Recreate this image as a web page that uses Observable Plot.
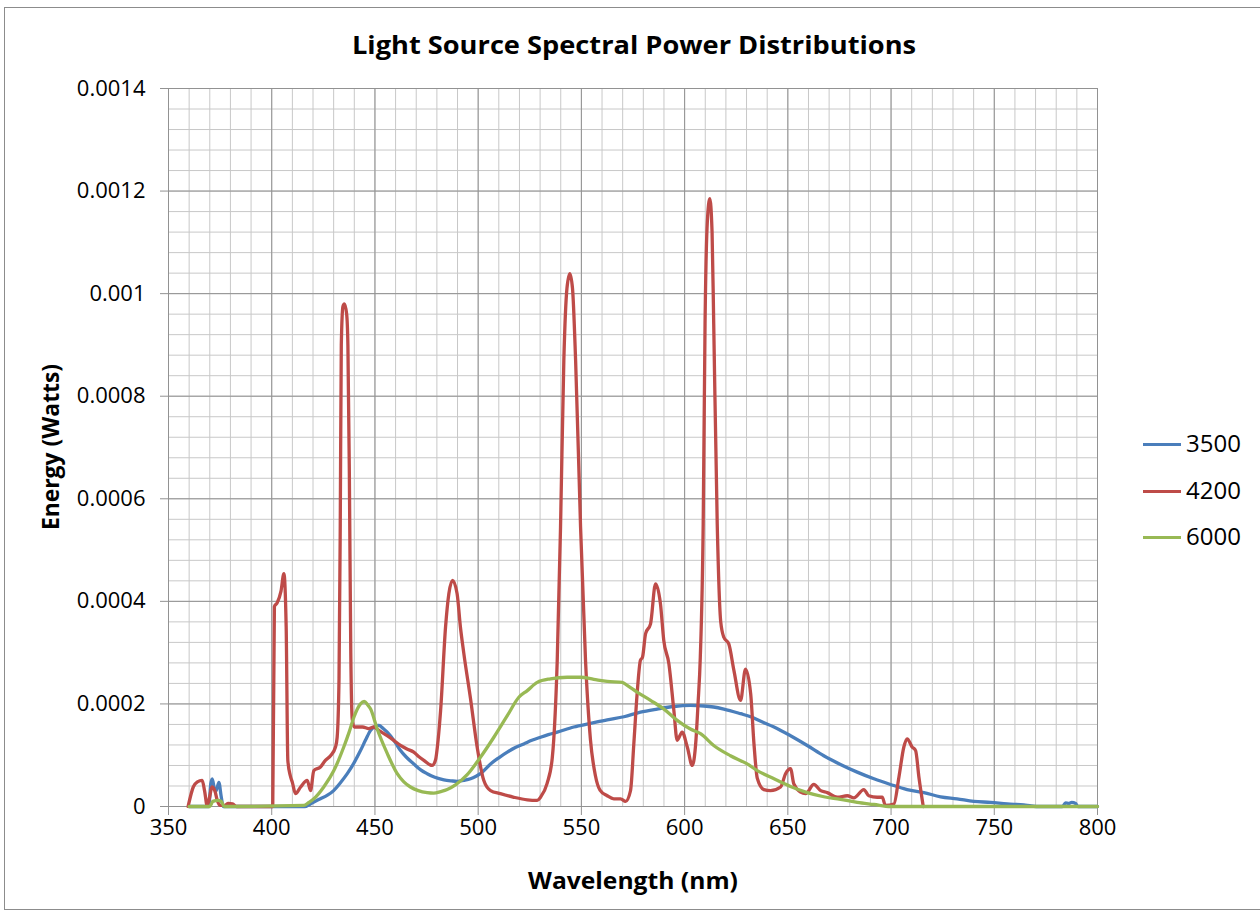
<!DOCTYPE html>
<html>
<head>
<meta charset="utf-8">
<script src="https://cdn.jsdelivr.net/npm/d3@7"></script>
<script src="https://cdn.jsdelivr.net/npm/@observablehq/plot@0.6"></script>
<style>
  body { margin: 0; background: #fff; }
  #wrap { position: relative; width: 1260px; height: 914px; overflow: hidden; font-family: "Open Sans", sans-serif; color: #000; }
  #frame { position: absolute; left: 4px; top: 7px; width: 1270px; height: 903px; border: 1px solid #8c8c8c; box-sizing: border-box; }
  #chart { position: absolute; left: 0; top: 70px; }
  .lbl { position: absolute; white-space: nowrap; transform-origin: 50% 50%; line-height: 1; }
  .bold { font-weight: 700; }
  .leg-line { position: absolute; height: 3px; width: 38px; }
  .leg-text { position: absolute; font-size: 24px; line-height: 1; }
</style>
</head>
<body>
<div id="wrap">
  <div id="frame"></div>
  <div id="chart"></div>
</div>
<script>
// ---------- data (energy values in units of 1e-4 W) ----------
const seriesNames = ["3500", "4200", "6000"];
const seriesColors = ["#4a7ebb", "#be4b48", "#98b954"];

const nm3500 = [360,369.5,370.5,371.2,372.2,373,374.4,375.5,376.5,416,420,423.6,427,430,433,436.6,440,443,445.5,447.8,450,451.9,454,457.5,460,462.4,465.5,468.8,472,475.3,479,483.4,487,489.8,493,496.3,499,501.1,506,510,514.1,518,522.1,526,530.2,534,538.3,546.3,554.4,562.5,570.6,578.6,586.7,594.8,602.8,609.3,614,619,627.1,632,636.9,643.3,651.3,659.4,667.4,675.5,683.6,691.7,699.7,707.8,715.9,724,732,740.1,748.2,756.3,764.3,768,772,783,784.5,786,787.5,789.4,790.5,800];
const e3500 = [0,0,0.45,0.54,0.35,0.3,0.47,0.2,0,0,0.08,0.15,0.22,0.31,0.45,0.64,0.86,1.09,1.3,1.48,1.56,1.58,1.52,1.38,1.24,1.09,0.95,0.83,0.72,0.64,0.57,0.52,0.5,0.49,0.51,0.54,0.59,0.64,0.83,0.95,1.06,1.15,1.22,1.29,1.35,1.4,1.45,1.55,1.62,1.69,1.75,1.84,1.9,1.95,1.97,1.96,1.94,1.9,1.81,1.75,1.66,1.55,1.38,1.19,0.99,0.82,0.67,0.54,0.43,0.33,0.27,0.19,0.15,0.1,0.08,0.05,0.03,0.01,0,0,0.07,0.06,0.08,0.06,0,0];

const nm4200 = [359.5,362,364,366.3,367.5,368.7,370,371,372.5,373.6,375,377,379,381,383,400.5,401.3,402.6,404.5,405.9,407,407.8,409,410,411.5,414,417.2,418.8,420.4,423.6,426,428.5,430.9,431.7,432.6,433.2,433.7,434.5,435.2,436.3,436.9,437.6,438.3,439,440,444,447,449.5,452,455.9,459.1,462.4,465.5,468.8,471,473.7,477.7,479.3,480.6,481.8,484.2,485.8,487.6,489.8,491.4,493,496.3,499.5,502.7,506,510.8,517.3,523.8,528.6,530.2,533.4,535.9,536.6,538.3,539.9,541.5,543,544.4,545.7,547.2,549.6,552,554.4,556.8,559,562.5,565.7,569,571.4,573.8,575.4,577,578.6,579.6,581.1,583.5,585.9,588.3,589.9,592.4,594.8,596.4,598.8,601.3,603.7,605.5,606.5,607.6,609,609.9,611,612.2,613.3,614.1,615.8,617.5,619,621.4,623.9,627.1,629.5,632,633.6,635.2,638.4,641.6,646.5,648.9,651.3,652.9,656.2,658.6,662.6,665.9,669.1,673.9,678.8,682,686.8,689.2,693.3,695.7,697.3,701.4,703.8,706.2,707.8,710.2,711.9,713.5,715.6];
const e4200 = [0,0.38,0.48,0.51,0.3,0.02,0.2,0.38,0.3,0.12,0.02,0.02,0.06,0.05,0,0,3.9,3.97,4.2,4.54,3.5,0.9,0.6,0.47,0.25,0.38,0.51,0.31,0.7,0.77,0.9,0.99,1.16,1.35,2.5,5.5,9.0,9.75,9.8,9.6,9.0,6.5,3.0,1.7,1.55,1.55,1.52,1.55,1.48,1.38,1.29,1.19,1.12,1.06,0.98,0.9,0.8,0.9,1.3,1.87,3.5,4.15,4.41,4.15,3.5,3.0,2.1,1.16,0.51,0.31,0.25,0.18,0.13,0.12,0.18,0.45,0.95,1.3,2.85,5.45,8.7,10.1,10.39,10.1,8.7,5.45,2.85,1.3,0.6,0.32,0.21,0.15,0.15,0.1,0.31,1.22,2.2,2.85,2.91,3.37,3.56,4.34,3.95,3.24,2.78,1.87,1.29,1.45,1.16,0.8,1.3,2.0,2.91,5.51,9.41,11.4,11.85,11.2,9.41,5.51,3.6,3.3,3.17,2.65,2.07,2.68,2.2,1.22,0.55,0.33,0.31,0.38,0.64,0.74,0.44,0.28,0.25,0.43,0.31,0.27,0.18,0.21,0.17,0.33,0.21,0.18,0.18,0.02,0.05,0.57,1.16,1.32,1.16,1.09,0.57,0];

const nm6000 = [360,370,371.5,374,375.5,377,415.5,418,420.4,425.2,430.1,434.9,437.5,439.8,443,444.8,446.5,447.9,451.1,456,460.8,464,467.2,471,475.3,478.5,481.8,485,489,494.7,501.1,507.6,514.1,519.7,523.8,528.6,535,543.1,549.6,556,562.5,569.8,572.2,577,583.5,590,596.4,602.8,607.7,614.1,622.2,630.3,635.2,643.3,651.3,659.4,667.4,675.5,683.6,691.7,699.7,800];
const e6000 = [0,0,0.1,0.12,0.1,0,0.02,0.08,0.15,0.38,0.7,1.16,1.45,1.74,2.0,2.05,1.98,1.9,1.51,1.03,0.64,0.48,0.38,0.31,0.27,0.26,0.29,0.33,0.42,0.62,0.96,1.35,1.77,2.13,2.26,2.42,2.49,2.52,2.52,2.48,2.44,2.42,2.36,2.23,2.07,1.9,1.68,1.51,1.42,1.19,0.99,0.83,0.7,0.54,0.39,0.27,0.19,0.14,0.08,0.04,0,0];

const xTicks = [350, 400, 450, 500, 550, 600, 650, 700, 750, 800];
const yTicks = [0, 0.0002, 0.0004, 0.0006, 0.0008, 0.001, 0.0012, 0.0014];
const yTickLabels = ["0", "0.0002", "0.0004", "0.0006", "0.0008", "0.001", "0.0012", "0.0014"];
const xMinor = d3.range(350, 801, 10);
const yMinor = d3.range(0, 36).map(i => i * 0.00004);

const titleText = "Light Source Spectral Power Distributions";
const xTitle = "Wavelength (nm)";
const yTitle = "Energy (Watts)";

// ---------- build table ----------
const raw = [[nm3500, e3500], [nm4200, e4200], [nm6000, e6000]];
const table = [];
raw.forEach(([xs, ys], s) => xs.forEach((x, i) => table.push({series: seriesNames[s], nm: x, energy: ys[i] * 1e-4})));

const chart = Plot.plot({
  width: 1260,
  height: 844,
  marginLeft: 168,
  marginRight: 163,
  marginTop: 18,
  marginBottom: 108,
  style: {fontFamily: "'Open Sans', sans-serif", fontSize: "22px", color: "#000", background: "transparent", overflow: "visible"},
  x: {domain: [350, 800]},
  y: {domain: [0, 0.0014]},
  color: {domain: seriesNames, range: seriesColors},
  marks: [
    Plot.gridX(xMinor, {stroke: "#c8c8c8", strokeOpacity: 1}),
    Plot.gridY(yMinor, {stroke: "#c8c8c8", strokeOpacity: 1}),
    Plot.gridX(xTicks, {stroke: "#929292", strokeOpacity: 1}),
    Plot.gridY(yTicks, {stroke: "#929292", strokeOpacity: 1}),
    Plot.axisX(xTicks, {tickSize: 9, tickPadding: 4, stroke: "#929292", fill: "#000", label: null, tickFormat: d => String(d)}),
    Plot.axisY(yTicks, {tickSize: 8, tickPadding: 15, stroke: "#929292", fill: "#000", label: null, tickFormat: d => yTickLabels[yTicks.indexOf(d)]}),
    Plot.line(table, {x: "nm", y: "energy", z: "series", stroke: "series", strokeWidth: 3.3, curve: "monotone-x"})
  ]
});
document.getElementById("chart").appendChild(chart);

// ---------- html text ----------
const wrap = document.getElementById("wrap");
function addLabel(text, cx, cy, size, bold, targetWidth, rotate) {
  const s = document.createElement("span");
  s.className = "lbl" + (bold ? " bold" : "");
  s.textContent = text;
  s.style.fontSize = size + "px";
  s.style.left = cx + "px";
  s.style.top = cy + "px";
  wrap.appendChild(s);
  const w = s.offsetWidth;
  const k = targetWidth ? targetWidth / w : 1;
  s.style.transform = "translate(-50%,-50%)" + (rotate ? " rotate(-90deg)" : "") + " scaleX(" + k + ")";
  return s;
}
addLabel(titleText, 634, 44, 25, true, 564, false);
addLabel(xTitle, 633, 880, 23, true, 210, false);
addLabel(yTitle, 50, 447, 23, true, 166, true);

const legY = [444, 491, 537];
seriesNames.forEach((name, i) => {
  const l = document.createElement("div");
  l.className = "leg-line";
  l.style.left = "1143px";
  l.style.top = (legY[i] - 1.5) + "px";
  l.style.background = seriesColors[i];
  wrap.appendChild(l);
  const t = document.createElement("span");
  t.className = "leg-text";
  t.textContent = name;
  t.style.left = "1186px";
  t.style.top = (legY[i] - 13) + "px";
  wrap.appendChild(t);
});
</script>
</body>
</html>
